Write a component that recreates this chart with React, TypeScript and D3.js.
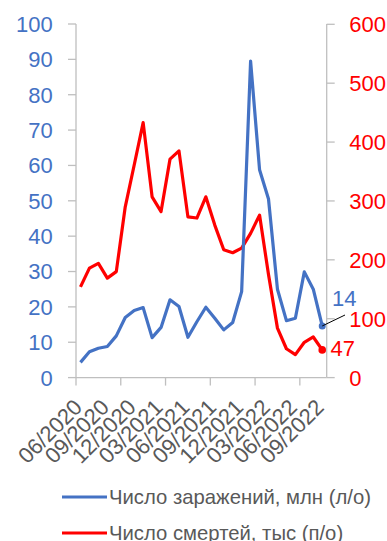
import React from "react";
import * as d3 from "d3";

const months: string[] = [
  "06/2020","07/2020","08/2020","09/2020","10/2020","11/2020","12/2020",
  "01/2021","02/2021","03/2021","04/2021","05/2021","06/2021","07/2021","08/2021","09/2021","10/2021","11/2021","12/2021",
  "01/2022","02/2022","03/2022","04/2022","05/2022","06/2022","07/2022","08/2022","09/2022",
];
const infections: number[] = [
  4.3, 7.3, 8.3, 8.8, 11.8, 17.0, 19.0, 19.8, 11.3, 14.2, 22.0, 20.1, 11.4, 15.8,
  19.9, 16.8, 13.5, 15.6, 24.3, 89.5, 58.8, 50.5, 25.0, 16.1, 16.8, 29.9, 25.0, 14.6,
];
const deaths: number[] = [
  154, 186, 194, 169, 180, 290, 361, 433, 307, 282, 371, 385, 273, 271,
  307, 259, 217, 212, 220, 245, 276, 175, 84, 49, 39, 60, 69, 47,
];
const leftTicks: number[] = [0, 10, 20, 30, 40, 50, 60, 70, 80, 90, 100];
const rightTicks: number[] = [0, 100, 200, 300, 400, 500, 600];
const labelEvery = 3;
const tickEvery = 5;
const lastInfLabel = "14";
const lastDeathLabel = "47";
const legendItems: string[] = ["Число заражений, млн (л/о)", "Число смертей, тыс (п/о)"];

const BLUE = "#4472C4";
const RED = "#FF0000";
const GRAY = "#595959";
const AXIS = "#BFBFBF";
const FONT = "'Liberation Sans', Arial, sans-serif";

export default function App() {
  const left = 76, right = 326.7, top = 24, bottom = 377.6;
  const x = d3.scaleBand<string>().domain(months).range([left, right]).padding(0);
  const cx = (m: string) => (x(m) as number) + x.bandwidth() / 2;
  const yL = d3.scaleLinear().domain([0, 100]).range([bottom, top]);
  const yR = d3.scaleLinear().domain([0, 600]).range([bottom, top + 0.3]);

  const lineL = d3.line<number>().x((_, i) => cx(months[i])).y((d) => yL(d));
  const lineR = d3.line<number>().x((_, i) => cx(months[i])).y((d) => yR(d));

  const lastM = months[months.length - 1];
  const lastInf = infections[infections.length - 1];
  const lastDeath = deaths[deaths.length - 1];

  return (
    <svg width={387} height={541} style={{ position: "absolute", left: 0, top: 0 }} fontFamily={FONT}>
      <rect width={387} height={541} fill="#fff" />
      {/* left axis */}
      <line x1={left} x2={left} y1={top} y2={bottom} stroke={AXIS} strokeWidth={1.3} />
      {leftTicks.map((t) => (
        <g key={"l" + t}>
          <line x1={left - 8} x2={left} y1={yL(t)} y2={yL(t)} stroke={AXIS} strokeWidth={1.3} />
          <text x={52.7} y={yL(t)} dy="0.36em" textAnchor="end" fill={BLUE} fontSize={22}>{t}</text>
        </g>
      ))}
      {/* right axis */}
      <line x1={right} x2={right} y1={top} y2={bottom} stroke={AXIS} strokeWidth={1.3} />
      {rightTicks.map((t) => (
        <g key={"r" + t}>
          <line x1={right} x2={right + 8} y1={yR(t)} y2={yR(t)} stroke={AXIS} strokeWidth={1.3} />
          <text x={349.3} y={yR(t)} dy="0.36em" textAnchor="start" fill={RED} fontSize={22}>{t}</text>
        </g>
      ))}
      {/* bottom axis */}
      <line x1={left} x2={right} y1={bottom} y2={bottom} stroke={AXIS} strokeWidth={1.3} />
      {months.map((m, i) =>
        i % tickEvery === 0 ? (
          <line key={"t" + m} x1={x(m) as number} x2={x(m) as number} y1={bottom} y2={bottom + 8} stroke={AXIS} strokeWidth={1.3} />
        ) : null
      )}
      {months.map((m, i) =>
        i % labelEvery === 0 ? (
          <text
            key={"x" + m}
            transform={`translate(${cx(m) + 3},${bottom + 31}) rotate(-45)`}
            textAnchor="end"
            fill={GRAY}
            fontSize={22}
          >
            {m}
          </text>
        ) : null
      )}
      {/* lines */}
      <path d={lineR(deaths) || ""} fill="none" stroke={RED} strokeWidth={3.2} strokeLinejoin="round" />
      <path d={lineL(infections) || ""} fill="none" stroke={BLUE} strokeWidth={3.2} strokeLinejoin="round" />
      <circle cx={cx(lastM)} cy={yL(lastInf)} r={3.5} fill={BLUE} />
      <circle cx={cx(lastM)} cy={yR(lastDeath)} r={3.8} fill={RED} />
      <line x1={cx(lastM)} y1={yL(lastInf)} x2={345} y2={315} stroke="#000" strokeWidth={1} />
      <text x={332} y={298} dy="0.36em" fill={BLUE} fontSize={22}>{lastInfLabel}</text>
      <text x={330.5} y={348} dy="0.36em" fill={RED} fontSize={22}>{lastDeathLabel}</text>
      {/* legend */}
      {legendItems.map((s, i) => (
        <g key={s}>
          <line x1={62} x2={107} y1={497 + i * 36} y2={497 + i * 36} stroke={i === 0 ? BLUE : RED} strokeWidth={3.2} />
          <text x={109} y={497 + i * 36} dy="0.36em" fill={GRAY} fontSize={20.3}>{s}</text>
        </g>
      ))}
    </svg>
  );
}
